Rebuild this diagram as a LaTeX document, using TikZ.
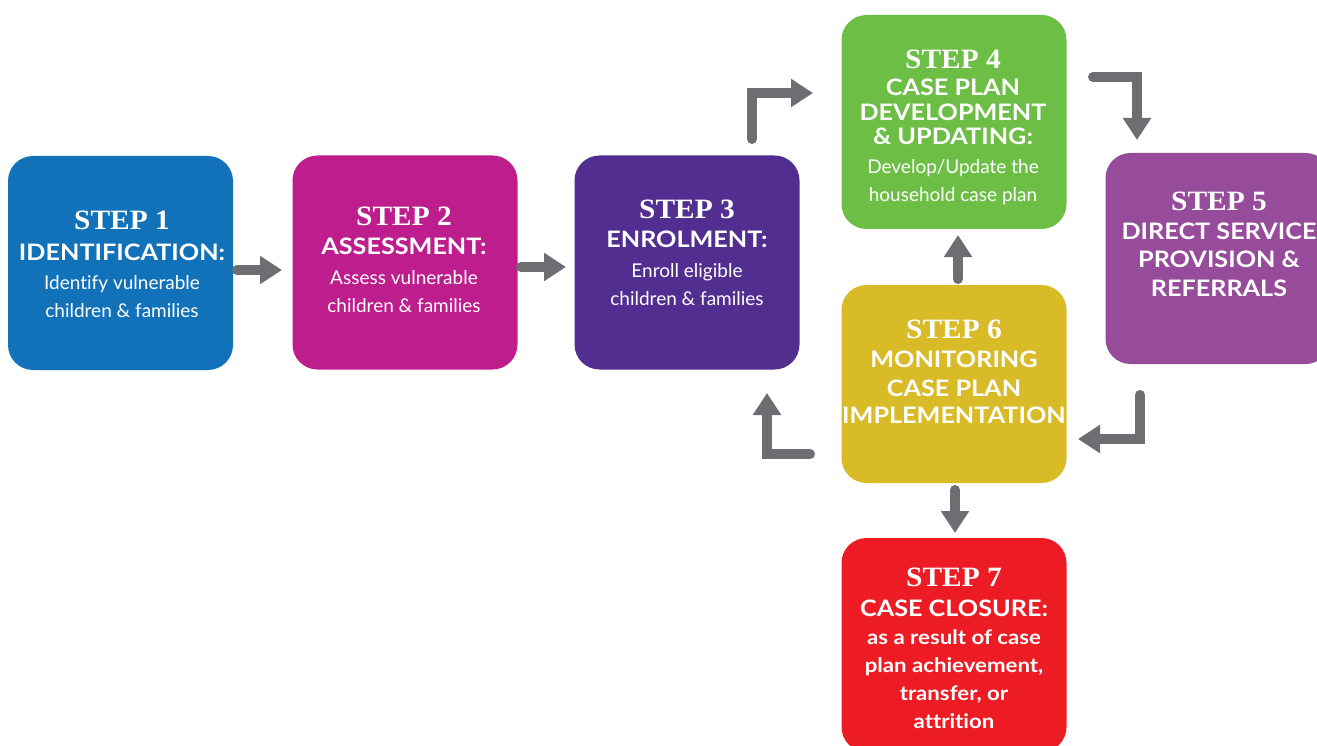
\documentclass[tikz,border=0pt]{standalone}
\usepackage{fontspec}
\setmainfont{Lato}[Ligatures=NoCommon]
\newfontfamily\serf{Liberation Serif}[FakeStretch=1.05]
\newfontfamily\hdfam{Lato}[FakeStretch=1.11,Ligatures=NoCommon]
\usetikzlibrary{arrows.meta}
\definecolor{cblue}{HTML}{1172BA}
\definecolor{cmag}{HTML}{BE1E8D}
\definecolor{cpur}{HTML}{522E91}
\definecolor{cgreen}{HTML}{6CBE45}
\definecolor{cviol}{HTML}{964B9B}
\definecolor{cyell}{HTML}{D9BA27}
\definecolor{cred}{HTML}{ED1C24}
\definecolor{cgray}{HTML}{6D6E71}
\newcommand\stepf{\serf\bfseries\fontsize{28}{28}\selectfont}
\newcommand\hdf{\hdfam\bfseries\fontsize{22.7}{28}\selectfont}
\newcommand\bbf{\hdfam\bfseries\fontsize{20}{28}\selectfont}
\begin{document}
\begin{tikzpicture}[x=1pt,y=-1pt,
  box/.style={rounded corners=25pt,inner sep=0pt,minimum width=225pt,minimum height=214pt},
  txt/.style={anchor=north,inner sep=0pt,align=center,text=white,font=\fontsize{19}{28}\selectfont},
  arr/.style={draw=cgray,line width=10pt,line cap=round,-{Triangle[length=22pt,width=27pt]}}]
\useasboundingbox (0,0) rectangle (1317,746);
\clip (0,0) rectangle (1317,746);
% boxes
\node[box,fill=cblue] (s1) at (120.5,263) {};
\node[box,fill=cmag] (s2) at (405,262.5) {};
\node[box,fill=cpur] (s3) at (687,262.5) {};
\node[box,fill=cgreen] (s4) at (954,122) {};
\node[box,fill=cviol,minimum height=211pt] (s5) at (1218,258.5) {};
\node[box,fill=cyell,minimum height=198pt] (s6) at (954,384) {};
\node[box,fill=cred] (s7) at (954,645) {};
% texts
\node[txt] (t1) at (122,211.2) {{\stepf STEP 1}\\[3pt]{\hdf IDENTIFICATION:}\\[1pt]Identify vulnerable\\children \& families};
\node[txt] (t2) at (404,207.2) {{\stepf STEP 2}\\[1pt]{\hdf ASSESSMENT:}\\[2pt]Assess vulnerable\\children \& families};
\node[txt] (t3) at (687,200.2) {{\stepf STEP 3}\\[1pt]{\hdf ENROLMENT:}\\[2pt]Enroll eligible\\children \& families};
\node[txt] (t4) at (953,50.2) {{\stepf STEP 4}\\[-1pt]{\hdf CASE PLAN}\\[-3pt]{\hdf DEVELOPMENT}\\[-4pt]{\hdf \& UPDATING:}\\[1pt]Develop/Update the\\household case plan};
\node[txt] (t5) at (1219,192.2) {{\stepf STEP 5}\\[1pt]{\hdf DIRECT SERVICE}\\{\hdf PROVISION \&}\\[1pt]{\hdf REFERRALS}};
\node[txt] (t6) at (954,320.2) {{\stepf STEP 6}\\[1pt]{\hdf MONITORING}\\[1pt]{\hdf CASE PLAN}\\[-1pt]{\hdf IMPLEMENTATION}};
\node[txt] (t7) at (954,568.2) {{\stepf STEP 7}\\[2pt]{\hdf CASE CLOSURE:}\\{\bbf as a result of case}\\{\bbf plan achievement,}\\{\bbf transfer, or}\\{\bbf attrition}};
% arrow end points
\coordinate (a1s) at (237,270); \coordinate (a1e) at (282,270);
\coordinate (a2s) at (521,267); \coordinate (a2e) at (566,267);
\coordinate (a3s) at (752,139); \coordinate (a3e) at (813,93);
\coordinate (a4s) at (1093,77); \coordinate (a4e) at (1137,140);
\coordinate (a5s) at (1140,395); \coordinate (a5e) at (1078,439);
\coordinate (a6s) at (810,454); \coordinate (a6e) at (767,393);
\coordinate (a7s) at (958,279); \coordinate (a7e) at (958,235);
\coordinate (a8s) at (955,490); \coordinate (a8e) at (955,533);
\draw[arr] (a1s) -- (a1e);
\draw[arr] (a2s) -- (a2e);
\draw[arr] (a3s) |- (a3e);
\draw[arr] (a4s) -| (a4e);
\draw[arr] (a5s) |- (a5e);
\draw[arr] (a6s) -| (a6e);
\draw[arr] (a7s) -- (a7e);
\draw[arr] (a8s) -- (a8e);
\end{tikzpicture}
\end{document}
